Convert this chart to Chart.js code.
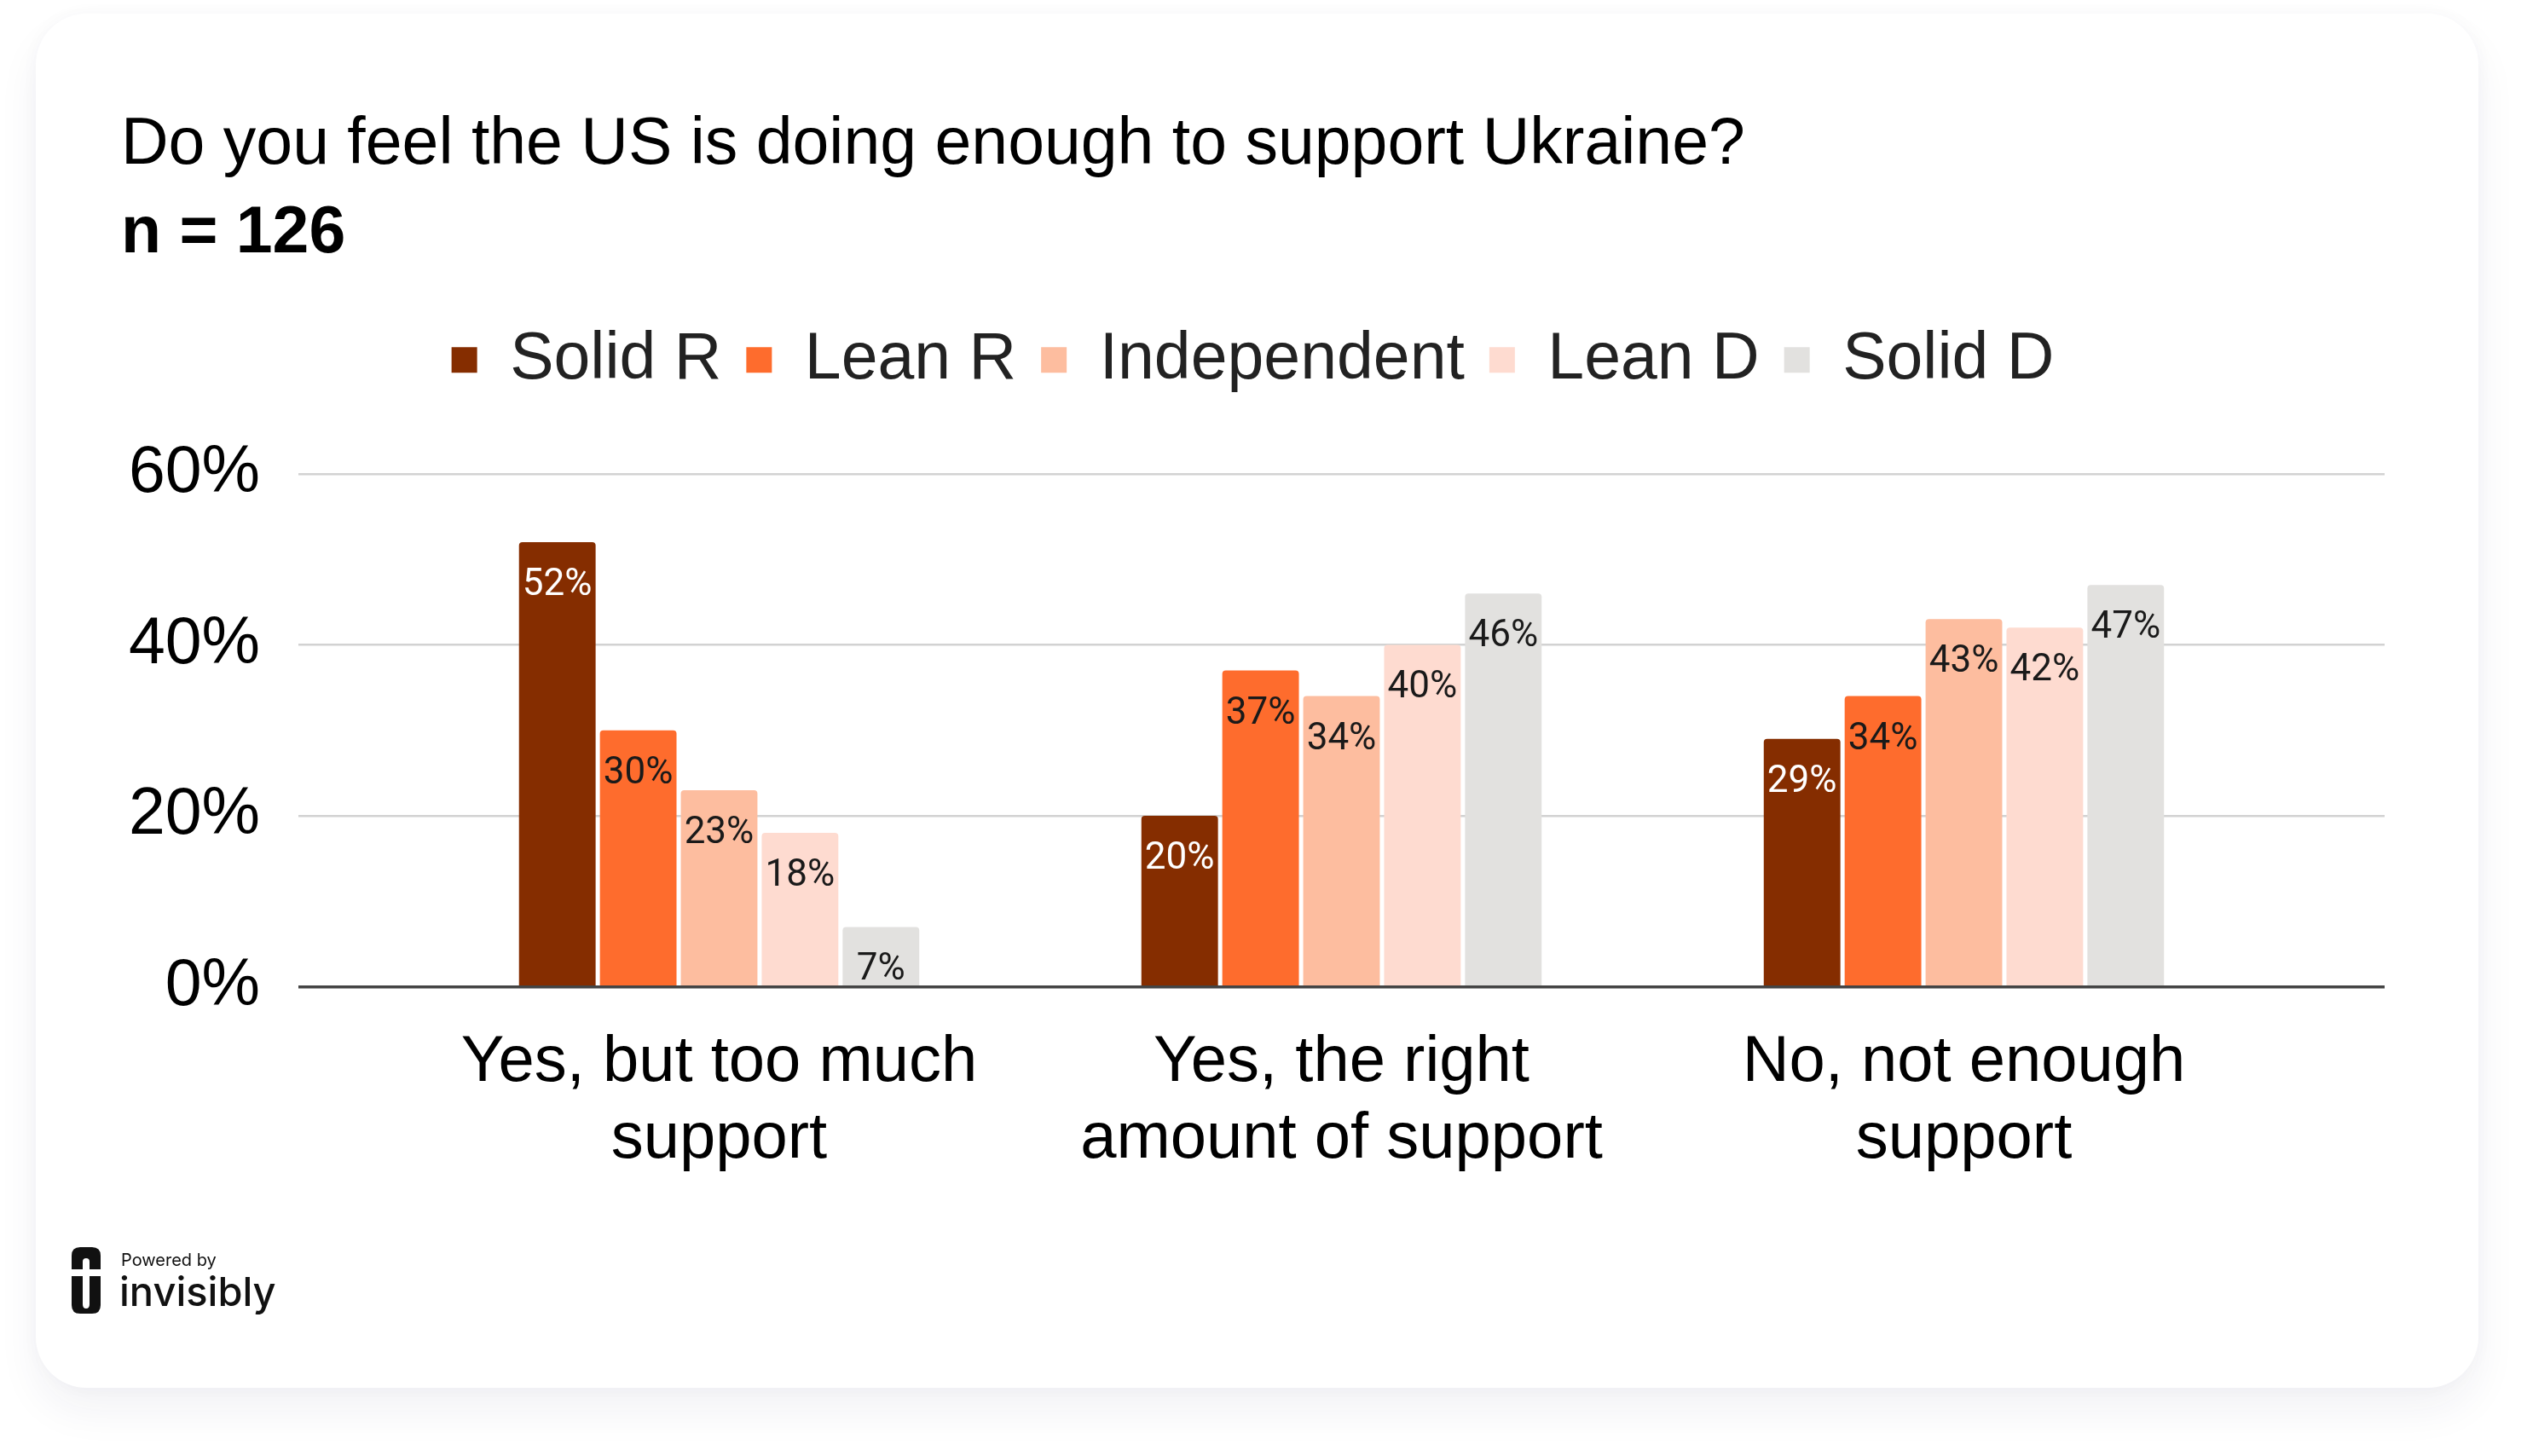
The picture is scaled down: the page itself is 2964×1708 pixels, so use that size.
<!DOCTYPE html>
<html>
<head>
<meta charset="utf-8">
<script src="https://cdn.jsdelivr.net/npm/chart.js@4.4.1/dist/chart.umd.min.js"></script>
<style>
  html, body { margin: 0; padding: 0; background: #fff; }
  body { width: 2964px; height: 1708px; position: relative; overflow: hidden; }
  .card {
    position: absolute; left: 42px; top: 16px; width: 2865px; height: 1612px;
    background: #fff; border-radius: 60px;
    box-shadow: 0 26px 50px rgba(30, 30, 80, 0.06), 0 0 20px rgba(30, 30, 80, 0.03);
  }
  .wrap { position: absolute; left: 0; top: 0; width: 2964px; height: 1708px; }
  .powered { position: absolute; left: 142px; top: 1466px; font: 20px Inter, sans-serif; color: #111; }
  .brand { position: absolute; left: 140px; top: 1486px; font: 500 47px Inter, sans-serif; color: #111; }
  .logo { position: absolute; left: 84px; top: 1463px; }
</style>
</head>
<body>
<div class="card"></div>
<div class="wrap"><canvas id="chart"></canvas></div>
<svg class="logo" width="34" height="78" viewBox="0 0 34 78">
  <path d="M0 26 V10 Q0 0 10 0 H24 Q34 0 34 10 V26 H21 V17 Q21 13 17 13 Q13 13 13 17 V26 Z" fill="#111"/>
  <path d="M0 34 H13 V67 Q13 72 17 72 Q21 72 21 67 V34 H34 V68 Q34 78 24 78 H10 Q0 78 0 68 Z" fill="#111"/>
</svg>
<div class="powered">Powered by</div>
<div class="brand">invisibly</div>
<script>
// data
const categories = [["Yes, but too much", "support"], ["Yes, the right", "amount of support"], ["No, not enough", "support"]];
const parties = ["Solid R", "Lean R", "Independent", "Lean D", "Solid D"];
const solidR = [52, 20, 29];
const leanR = [30, 37, 34];
const independent = [23, 34, 43];
const leanD = [18, 40, 42];
const solidD = [7, 46, 47];
const yTicks = [0, 20, 40, 60];

const colors = ['#852d00', '#fe6c2d', '#fdbd9f', '#fedbd0', '#e2e1df'];
const labelColors = ['#ffffff', '#1a1a1a', '#1a1a1a', '#1a1a1a', '#1a1a1a'];
const seriesValues = [solidR, leanR, independent, leanD, solidD];

Chart.defaults.font.family = "'Liberation Sans', Arial, sans-serif";
Chart.defaults.color = '#111';

// extra room on each side of the three groups, in category units
const xPad = 0.176;

const barLabels = {
  id: 'barLabels',
  afterDatasetsDraw(chart) {
    const ctx = chart.ctx;
    ctx.save();
    ctx.font = '44px Roboto';
    ctx.textAlign = 'center';
    ctx.textBaseline = 'alphabetic';
    chart.data.datasets.forEach((ds, i) => {
      chart.getDatasetMeta(i).data.forEach((bar, j) => {
        ctx.fillStyle = labelColors[i];
        ctx.fillText(ds.data[j].y + '%', bar.x, bar.y + 62);
      });
    });
    ctx.restore();
  }
};

const legendSpace = {
  id: 'legendSpace',
  beforeInit(chart) {
    const fit = chart.legend.fit;
    chart.legend.fit = function () {
      fit.bind(chart.legend)();
      this.height += 85;
    };
  }
};

const ctx = document.getElementById('chart').getContext('2d');
new Chart(ctx, {
  type: 'bar',
  data: {
    datasets: parties.map((p, i) => ({
      label: p,
      data: seriesValues[i].map((v, k) => ({ x: k, y: v })),
      backgroundColor: colors[i],
      borderWidth: 0,
      borderRadius: 4,
      borderSkipped: 'start',
      categoryPercentage: 0.65,
      barPercentage: 0.947
    }))
  },
  options: {
    responsive: true,
    maintainAspectRatio: false,
    animation: false,
    layout: { padding: { top: 125, left: 142, right: 167, bottom: 289 } },
    scales: {
      x: {
        type: 'linear',
        offset: false,
        min: -0.5 - xPad,
        max: categories.length - 0.5 + xPad,
        grid: { display: false, offset: false },
        border: { display: false },
        afterBuildTicks: s => { s.ticks = categories.map((c, i) => ({ value: i })); },
        ticks: {
          padding: 37,
          color: '#000',
          font: { size: 76, lineHeight: 1.18 },
          callback: v => categories[v]
        }
      },
      y: {
        min: 0,
        max: 60,
        afterBuildTicks: s => { s.ticks = yTicks.map(v => ({ value: v })); },
        afterFit: s => { s.width = 208; },
        grid: {
          drawTicks: false,
          color: c => c.tick.value === 0 ? '#444444' : '#d2d2d2',
          lineWidth: c => c.tick.value === 0 ? 3.5 : 2.5
        },
        border: { display: false },
        ticks: {
          padding: 45,
          color: '#000',
          font: { size: 77 },
          callback: v => v + '%'
        }
      }
    },
    plugins: {
      title: {
        display: true,
        text: 'Do you feel the US is doing enough to support Ukraine?',
        align: 'start',
        color: '#000',
        font: { size: 77, weight: 'normal', lineHeight: 1.2 },
        padding: { top: 0, bottom: 11 }
      },
      subtitle: {
        display: true,
        text: 'n = 126',
        align: 'start',
        color: '#000',
        font: { size: 77, weight: 'bold', lineHeight: 1.2 },
        padding: { top: 0, bottom: 34 }
      },
      legend: {
        position: 'top',
        labels: {
          boxWidth: 30,
          boxHeight: 30,
          padding: 29,
          color: '#222',
          font: { size: 77 }
        }
      },
      tooltip: { enabled: false }
    }
  },
  plugins: [barLabels, legendSpace]
});
</script>
</body>
</html>
